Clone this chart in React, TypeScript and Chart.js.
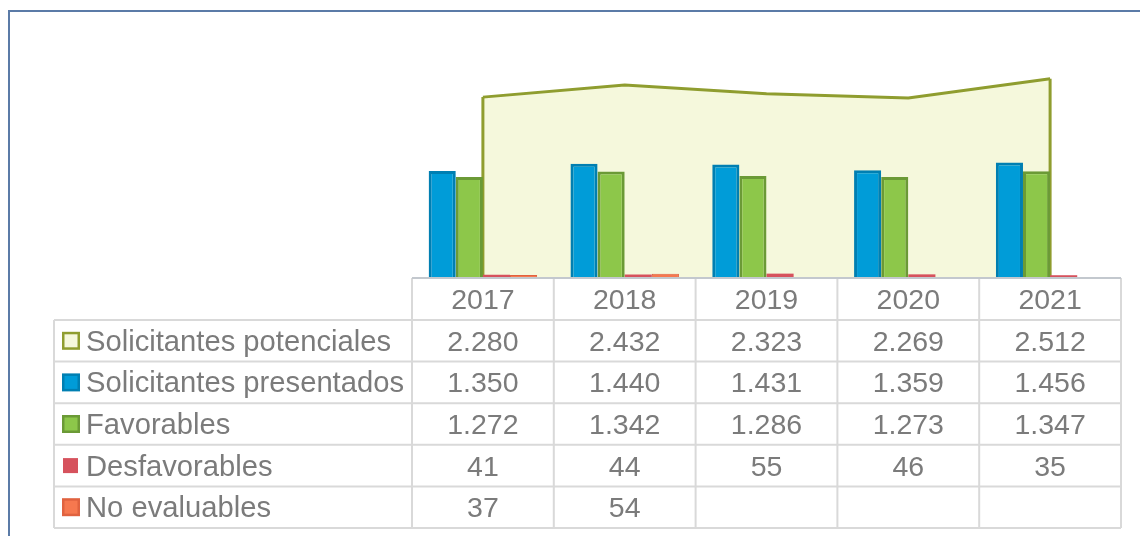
import { useEffect, useRef } from "react";
import { Chart, registerables } from "chart.js";

Chart.register(...registerables);

const categories = ["2017", "2018", "2019", "2020", "2021"];
const potenciales = [2280, 2432, 2323, 2269, 2512];
const presentados = [1350, 1440, 1431, 1359, 1456];
const favorables = [1272, 1342, 1286, 1273, 1347];
const desfavorables = [41, 44, 55, 46, 35];
const noEvaluables: (number | null)[] = [37, 54, null, null, null];
const seriesNames = [
  "Solicitantes potenciales",
  "Solicitantes presentados",
  "Favorables",
  "Desfavorables",
  "No evaluables",
];

const LABEL_FONT = '29.2px "Liberation Sans", Arial, sans-serif';
const NUM_FONT = '28.5px "Liberation Sans", Arial, sans-serif';
const TEXT = "#7b7b7b";
const GRID = "#d9d9d9";

const fills = ["#f5f8dc", "#009cd8", "#8dc74a", "#d6525d", "#f6784f"];
const borders = ["#8f9d2f", "#007fb2", "#6b9a36", null, "#e0623f"];

function fmt(v: number | null): string {
  if (v === null || v === undefined) return "";
  return String(v).replace(/\B(?=(\d{3})+(?!\d))/g, ".");
}

const allSeries = [potenciales, presentados, favorables, desfavorables, noEvaluables];

const framePlugin = {
  id: "frame",
  beforeDraw(chart: any) {
    const ctx = chart.ctx;
    ctx.save();
    ctx.strokeStyle = "#5b7ba7";
    ctx.lineWidth = 2;
    ctx.beginPath();
    ctx.moveTo(9, 536);
    ctx.lineTo(9, 11);
    ctx.lineTo(1140, 11);
    ctx.stroke();
    ctx.restore();
  },
};

const areaEdgesPlugin = {
  id: "areaEdges",
  afterDatasetDraw(chart: any, args: any) {
    if (args.index !== 0) return;
    const meta = chart.getDatasetMeta(0);
    const pts = meta.data;
    if (!pts.length) return;
    const y0 = chart.scales.y.getPixelForValue(0);
    const ctx = chart.ctx;
    ctx.save();
    ctx.strokeStyle = borders[0];
    ctx.lineWidth = 3;
    ctx.beginPath();
    ctx.moveTo(pts[0].x, y0);
    ctx.lineTo(pts[0].x, pts[0].y);
    ctx.moveTo(pts[pts.length - 1].x, pts[pts.length - 1].y);
    ctx.lineTo(pts[pts.length - 1].x, y0);
    ctx.stroke();
    ctx.restore();
  },
};

const tablePlugin = {
  id: "dataTable",
  afterDraw(chart: any) {
    const ctx = chart.ctx;
    const xs = chart.scales.x;
    const area = chart.chartArea;
    const n = categories.length;
    const colW = (area.right - area.left) / n;
    const top = area.bottom;
    const headerH = 42;
    const rowH = 41.6;
    const legendLeft = 54;
    const bottom = top + headerH + rowH * seriesNames.length;

    ctx.save();
    ctx.strokeStyle = GRID;
    ctx.lineWidth = 2;
    ctx.beginPath();
    for (let r = 0; r <= seriesNames.length; r++) {
      const y = top + headerH + r * rowH;
      ctx.moveTo(legendLeft, y);
      ctx.lineTo(area.right, y);
    }
    for (let c = 0; c <= n; c++) {
      const x = area.left + c * colW;
      ctx.moveTo(x, top);
      ctx.lineTo(x, bottom);
    }
    ctx.moveTo(legendLeft, top + headerH);
    ctx.lineTo(legendLeft, bottom);
    ctx.stroke();

    ctx.strokeStyle = "#c3c8ce";
    ctx.beginPath();
    ctx.moveTo(area.left, top);
    ctx.lineTo(area.right, top);
    ctx.stroke();

    ctx.fillStyle = TEXT;
    ctx.textBaseline = "alphabetic";
    ctx.textAlign = "center";
    ctx.font = NUM_FONT;
    categories.forEach((cat, i) => {
      const cx = xs.getPixelForValue(i);
      ctx.fillText(cat, cx, top + headerH / 2 + 10);
    });

    seriesNames.forEach((name, r) => {
      const cy = top + headerH + r * rowH + rowH / 2;
      const b = borders[r];
      if (b) {
        ctx.fillStyle = b;
        ctx.fillRect(62, cy - 9, 18, 18);
        ctx.fillStyle = fills[r];
        ctx.fillRect(64.5, cy - 6.5, 13, 13);
      } else {
        ctx.fillStyle = fills[r];
        ctx.fillRect(63, cy - 7.5, 15, 15);
      }
      ctx.fillStyle = TEXT;
      ctx.textAlign = "left";
      ctx.font = LABEL_FONT;
      ctx.fillText(name, 86, cy + 10);
      ctx.textAlign = "center";
      ctx.font = NUM_FONT;
      allSeries[r].forEach((v, i) => {
        const cx = xs.getPixelForValue(i);
        ctx.fillText(fmt(v), cx, cy + 10);
      });
    });
    ctx.restore();
  },
};

export default function App() {
  const ref = useRef<HTMLCanvasElement>(null);

  useEffect(() => {
    document.body.style.margin = "0";
    const canvas = ref.current;
    if (!canvas) return;
    const barCommon = {
      type: "bar" as const,
      categoryPercentage: 0.765,
      barPercentage: 1,
      borderWidth: 3,
      borderSkipped: "bottom" as const,
      order: 1,
    };
    const chart = new Chart(canvas, {
      type: "bar",
      data: {
        labels: categories,
        datasets: [
          {
            type: "line",
            label: seriesNames[0],
            data: potenciales,
            backgroundColor: fills[0],
            borderColor: borders[0] as string,
            borderWidth: 3,
            fill: "origin",
            pointRadius: 0,
            tension: 0,
            order: 10,
          } as any,
          { ...barCommon, label: seriesNames[1], data: presentados, backgroundColor: fills[1], borderColor: borders[1] as string },
          { ...barCommon, label: seriesNames[2], data: favorables, backgroundColor: fills[2], borderColor: borders[2] as string },
          { ...barCommon, label: seriesNames[3], data: desfavorables, backgroundColor: fills[3], borderWidth: 0 },
          { ...barCommon, label: seriesNames[4], data: noEvaluables, backgroundColor: fills[4], borderColor: borders[4] as string, borderWidth: 1 },
        ],
      },
      options: {
        responsive: false,
        animation: false,
        devicePixelRatio: 1,
        layout: { padding: { left: 412, right: 19, top: 40, bottom: 258 } },
        plugins: {
          legend: { display: false },
          tooltip: { enabled: false },
          title: { display: false },
        },
        scales: {
          x: { display: false, offset: true, grid: { display: false } },
          y: { display: false, min: 0, max: 3000 },
        },
      },
      plugins: [framePlugin, areaEdgesPlugin, tablePlugin],
    });
    return () => chart.destroy();
  }, []);

  return (
    <div style={{ position: "absolute", left: 0, top: 0, width: 1140, height: 536, background: "#ffffff" }}>
      <canvas ref={ref} width={1140} height={536} style={{ display: "block" }} />
    </div>
  );
}
